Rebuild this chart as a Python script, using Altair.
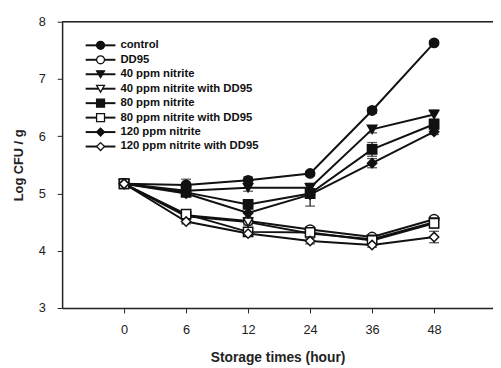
import altair as alt
import pandas as pd

hours = [0, 6, 12, 24, 36, 48]
series = ["control", "DD95", "40 ppm nitrite", "40 ppm nitrite with DD95",
          "80 ppm nitrite", "80 ppm nitrite with DD95", "120 ppm nitrite",
          "120 ppm nitrite with DD95"]
shapes = ["circle", "circle", "triangle-down", "triangle-down",
          "square", "square", "diamond", "diamond"]
fills = ["#111111", "white", "#111111", "white", "#111111", "white", "#111111", "white"]

control = [5.17, 5.15, 5.23, 5.35, 6.45, 7.63]
dd95 = [5.17, 4.62, 4.52, 4.37, 4.24, 4.55]
n40 = [5.17, 5.05, 5.10, 5.10, 6.12, 6.38]
n40_dd = [5.17, 4.60, 4.50, 4.30, 4.20, 4.50]
n80 = [5.17, 5.02, 4.81, 5.00, 5.77, 6.21]
n80_dd = [5.17, 4.64, 4.33, 4.32, 4.18, 4.48]
n120 = [5.17, 5.00, 4.66, 4.98, 5.53, 6.08]
n120_dd = [5.17, 4.51, 4.30, 4.17, 4.10, 4.24]

err_control = [0.03, 0.10, 0.06, 0.04, 0.05, 0.04]
err_dd95 = [0.03, 0.04, 0.05, 0.05, 0.04, 0.05]
err_n40 = [0.03, 0.05, 0.06, 0.05, 0.06, 0.08]
err_n40_dd = [0.03, 0.04, 0.05, 0.04, 0.03, 0.05]
err_n80 = [0.03, 0.05, 0.05, 0.05, 0.12, 0.05]
err_n80_dd = [0.03, 0.04, 0.05, 0.04, 0.03, 0.08]
err_n120 = [0.03, 0.04, 0.08, 0.20, 0.08, 0.05]
err_n120_dd = [0.03, 0.04, 0.05, 0.05, 0.04, 0.10]

values = [control, dd95, n40, n40_dd, n80, n80_dd, n120, n120_dd]
errors = [err_control, err_dd95, err_n40, err_n40_dd, err_n80, err_n80_dd,
          err_n120, err_n120_dd]

rows = []
for s, vals, errs in zip(series, values, errors):
    for i, (v, e) in enumerate(zip(vals, errs)):
        rows.append({"series": s, "pos": i, "hour": hours[i], "value": v,
                     "lo": v - e, "hi": v + e})
df = pd.DataFrame(rows)

leg = pd.DataFrame({"series": series, "row": list(range(len(series)))})
leg["ly"] = 7.588 - leg["row"] * 0.2525

FONT = "Liberation Sans"
label_expr = "[" + ",".join("'%d'" % h for h in hours) + "][datum.value]"

xscale = alt.Scale(domain=[-1, 5.95], nice=False, zero=False)
yscale = alt.Scale(domain=[3, 8], nice=False, zero=False)

shape_scale = alt.Scale(domain=series, range=shapes)
fill_scale = alt.Scale(domain=series, range=fills)

base = alt.Chart(df)

x_enc = alt.X("pos:Q", scale=xscale,
              axis=alt.Axis(values=list(range(len(hours))), labelExpr=label_expr,
                            title="Storage times (hour)", grid=False,
                            domainColor="#222", domainWidth=1.5, tickColor="#222",
                            tickSize=5, labelFont=FONT, labelFontSize=13,
                            labelColor="#222", labelPadding=11,
                            titleFont=FONT, titleFontSize=14, titleFontWeight="bold",
                            titleColor="#222", titlePadding=14))
y_enc = alt.Y("value:Q", scale=yscale,
              axis=alt.Axis(values=[3, 4, 5, 6, 7, 8], format="d", title="Log CFU / g",
                            grid=False,
                            domainColor="#222", domainWidth=1.5, tickColor="#222",
                            tickSize=5, labelFont=FONT, labelFontSize=13,
                            labelColor="#222", labelPadding=12,
                            titleFont=FONT, titleFontSize=13, titleFontWeight="bold",
                            titleColor="#222", titlePadding=13))

lines = base.mark_line(color="#111111", strokeWidth=2).encode(
    x=x_enc, y=y_enc, detail="series:N", order="pos:Q")

bars = base.mark_rule(color="#111111", strokeWidth=1.2).encode(
    x=alt.X("pos:Q", scale=xscale), y=alt.Y("lo:Q", scale=yscale), y2="hi:Q")
cap_lo = base.mark_tick(color="#111111", orient="horizontal", size=10, thickness=1.3).encode(
    x=alt.X("pos:Q", scale=xscale), y=alt.Y("lo:Q", scale=yscale))
cap_hi = base.mark_tick(color="#111111", orient="horizontal", size=10, thickness=1.3).encode(
    x=alt.X("pos:Q", scale=xscale), y=alt.Y("hi:Q", scale=yscale))

points = base.mark_point(filled=True, size=90, stroke="#111111", strokeWidth=1.5,
                         opacity=1).encode(
    x=alt.X("pos:Q", scale=xscale), y=alt.Y("value:Q", scale=yscale),
    shape=alt.Shape("series:N", scale=shape_scale, legend=None),
    fill=alt.Fill("series:N", scale=fill_scale, legend=None))

top = alt.Chart(pd.DataFrame({"v": [8]})).mark_rule(color="#222", strokeWidth=1.5).encode(
    y=alt.Y("v:Q", scale=yscale), x=alt.value(0), x2=alt.value(438))

lg = alt.Chart(leg)
leg_lines = lg.mark_rule(color="#111111", strokeWidth=2).encode(
    x=alt.datum(-0.62), x2=alt.datum(-0.14), y=alt.Y("ly:Q", scale=yscale))
leg_pts = lg.mark_point(filled=True, size=65, stroke="#111111", strokeWidth=1.3,
                        opacity=1).encode(
    x=alt.datum(-0.38), y=alt.Y("ly:Q", scale=yscale),
    shape=alt.Shape("series:N", scale=shape_scale, legend=None),
    fill=alt.Fill("series:N", scale=fill_scale, legend=None))
leg_txt = lg.mark_text(align="left", baseline="middle", font=FONT, fontSize=11.5,
                       fontWeight="bold", color="#111111").encode(
    x=alt.datum(-0.06), y=alt.Y("ly:Q", scale=yscale), text="series:N")

chart = alt.layer(lines, bars, cap_lo, cap_hi, points, top,
                  leg_lines, leg_pts, leg_txt).properties(
    width=438, height=291,
    autosize=alt.AutoSizeParams(type="none"),
    padding={"left": 55, "top": 11, "right": 0, "bottom": 58},
).configure_view(stroke=None).configure(background="white")

chart.save("out.html", embed_options={"renderer": "svg", "actions": False})
